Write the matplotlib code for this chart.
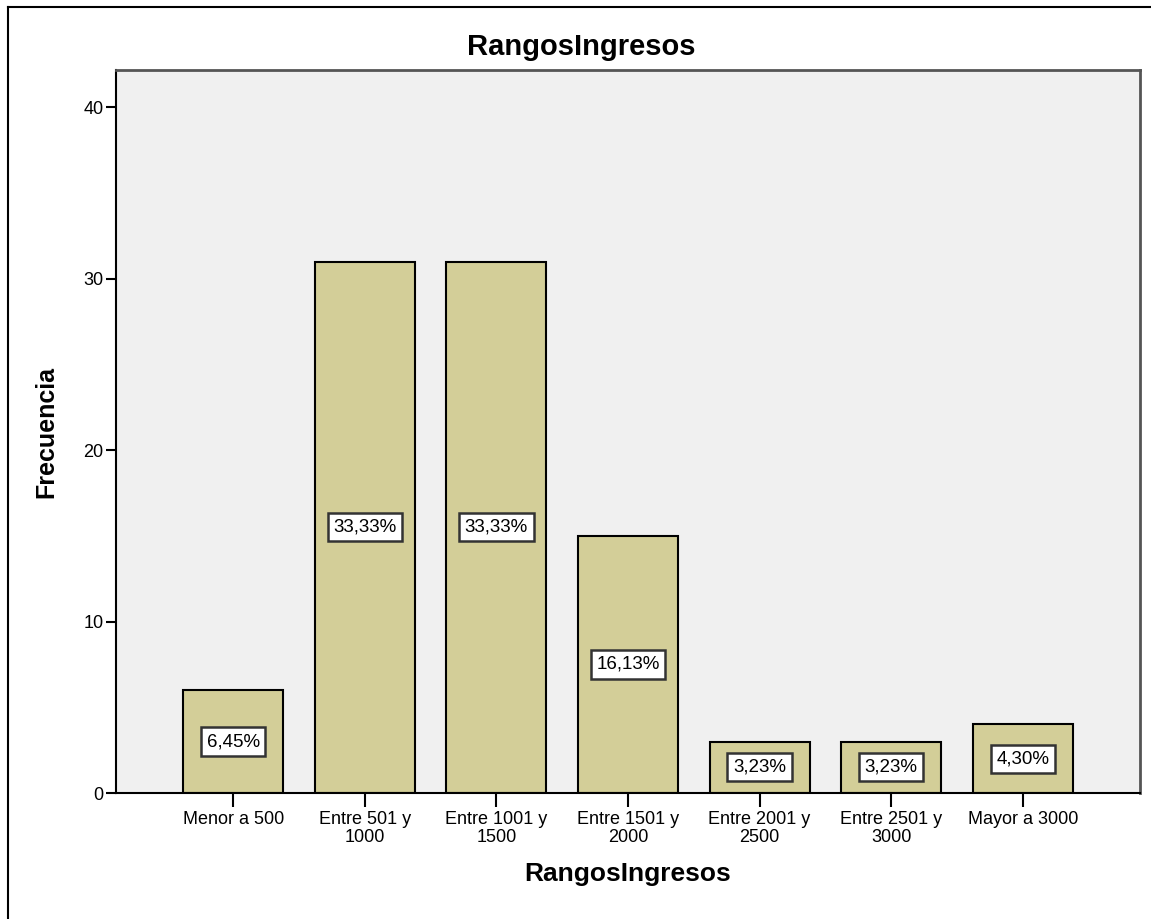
import matplotlib.pyplot as plt
from matplotlib.lines import Line2D

# DATA
categorias = ["Menor a 500", "Entre 501 y\n1000", "Entre 1001 y\n1500", "Entre 1501 y\n2000",
              "Entre 2001 y\n2500", "Entre 2501 y\n3000", "Mayor a 3000"]
frecuencias = [6, 31, 31, 15, 3, 3, 4]
porcentajes = ["6,45%", "33,33%", "33,33%", "16,13%", "3,23%", "3,23%", "4,30%"]
y_ticks = [0, 10, 20, 30, 40]

plt.rcParams['font.family'] = ['Liberation Sans', 'DejaVu Sans']

fig = plt.figure(figsize=(11.51, 9.19), dpi=100)
ax = fig.add_axes([0.1008, 0.1371, 0.8896, 0.7867])
ax.set_facecolor("#F0F0F0")

x = list(range(len(categorias)))
bars = ax.bar(x, frecuencias, width=0.76, color="#D3CE98", edgecolor="black", linewidth=1.5, zorder=2)

# PERCENT LABELS IN THE MIDDLE OF EACH BAR
for xi, f, p in zip(x, frecuencias, porcentajes):
    ax.text(xi, f / 2, p, ha="center", va="center", fontsize=13.5, zorder=3,
            bbox=dict(boxstyle="square,pad=0.3", facecolor="white", edgecolor="#333333", linewidth=1.8))

ax.set_xlim(-0.89, 6.89)
ax.set_ylim(0, 42.18)
ax.set_yticks(y_ticks)
ax.set_xticks(x)
ax.set_xticklabels(categorias, fontsize=13, linespacing=1.05)
ax.tick_params(axis="y", labelsize=13, length=7, width=1.5, direction="out", pad=2)
ax.tick_params(axis="x", length=10, width=1.5, direction="out", pad=3)

for s in ["left", "bottom"]:
    ax.spines[s].set_color("black")
    ax.spines[s].set_linewidth(1.5)
for s in ["top", "right"]:
    ax.spines[s].set_color("#555555")
    ax.spines[s].set_linewidth(2)

# title is centred on the whole frame, not on the axes
fig.text(581 / 1151, 1 - 47 / 919, "RangosIngresos", fontsize=21, fontweight="bold",
         ha="center", va="center")
ax.set_xlabel("RangosIngresos", fontsize=19, fontweight="bold", labelpad=12)
ax.set_ylabel("Frecuencia", fontsize=18, fontweight="bold", labelpad=18)

# OUTER FRAME (left and top edges)
fig.add_artist(Line2D([8 / 1151, 8 / 1151], [0, 1 - 7 / 919], color="black", linewidth=1.5))
fig.add_artist(Line2D([8 / 1151, 1], [1 - 7 / 919, 1 - 7 / 919], color="black", linewidth=1.5))

plt.savefig("out.png", dpi=100)
